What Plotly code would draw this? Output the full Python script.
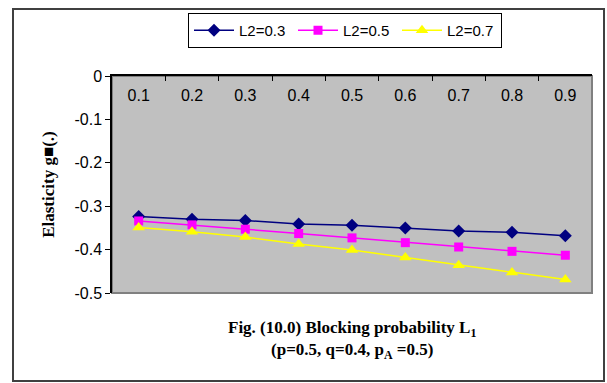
import plotly.graph_objects as go

categories = ["0.1", "0.2", "0.3", "0.4", "0.5", "0.6", "0.7", "0.8", "0.9"]
l2_03 = [-0.324, -0.330, -0.333, -0.341, -0.344, -0.350, -0.357, -0.360, -0.368]
l2_05 = [-0.334, -0.343, -0.353, -0.363, -0.373, -0.384, -0.394, -0.404, -0.413]
l2_07 = [-0.349, -0.359, -0.371, -0.387, -0.401, -0.418, -0.436, -0.453, -0.469]
series_names = ["L2=0.3", "L2=0.5", "L2=0.7"]
y_tick_vals = [0, -0.1, -0.2, -0.3, -0.4, -0.5]
y_tick_text = ["0", "-0.1", "-0.2", "-0.3", "-0.4", "-0.5"]

W, H = 607, 383
L, R, T, B = 112, 15, 76, 90
pw, ph = W - L - R, H - T - B


def px_x(p):
    return (p - L) / pw


def px_y(p):
    return (H - B - p) / ph


fig = go.Figure()
styles = [
    dict(color="#000080", symbol="diamond", size=10),
    dict(color="#FF00FF", symbol="square", size=9),
    dict(color="#FFFF00", symbol="triangle-up", size=11),
]
for name, vals, st in zip(series_names, [l2_03, l2_05, l2_07], styles):
    fig.add_trace(go.Scatter(
        x=categories, y=vals, name=name, mode="lines+markers",
        line=dict(color=st["color"], width=1.5),
        marker=dict(color=st["color"], symbol=st["symbol"], size=st["size"],
                    line=dict(width=0)),
    ))

axis_font = dict(family="Liberation Sans, Arial", size=16, color="black")
serif_bold = dict(family="Liberation Serif, Times New Roman", size=17, color="black",
                  weight="bold")

fig.update_layout(
    width=W, height=H,
    margin=dict(l=L, r=R, t=T, b=B),
    paper_bgcolor="white",
    plot_bgcolor="#C0C0C0",
    showlegend=True,
    legend=dict(
        orientation="h", x=px_x(188), y=px_y(13), xanchor="left", yanchor="top",
        bordercolor="black", borderwidth=1, bgcolor="white",
        font=dict(family="Liberation Sans, Arial", size=15, color="black"),
        entrywidth=49, entrywidthmode="pixels", itemwidth=40,
        tracegroupgap=0,
    ),
    xaxis=dict(
        type="category", side="top", showgrid=False, zeroline=False,
        showline=True, linecolor="black", linewidth=1.5,
        ticks="inside", ticklen=5, tickcolor="black", tickwidth=1,
        tickson="boundaries", ticklabelposition="outside", ticklabelstandoff=-33,
        tickfont=axis_font, range=[-0.5, 8.5],
    ),
    yaxis=dict(
        range=[-0.5, 0], showgrid=False, zeroline=False,
        showline=True, linecolor="black", linewidth=1.5,
        ticks="outside", ticklen=5, tickcolor="black", tickwidth=1,
        tickvals=y_tick_vals, ticktext=y_tick_text, tickfont=axis_font,
        title=dict(text="Elasticity g\u25A0(.)", font=serif_bold, standoff=16),
    ),
    shapes=[
        dict(type="rect", xref="paper", yref="paper", x0=0, x1=1, y0=0, y1=1,
             line=dict(color="#808080", width=2), layer="below"),
        dict(type="rect", xref="paper", yref="paper",
             x0=px_x(13), x1=px_x(604), y0=px_y(381), y1=px_y(9),
             line=dict(color="#404040", width=2), layer="below"),
    ],
    annotations=[
        dict(text="Fig. (10.0) Blocking probability L<sub>1</sub><br>(p=0.5, q=0.4, p<sub>A</sub> =0.5)",
             xref="paper", yref="paper", x=0.5, y=px_y(316), xanchor="center", yanchor="top",
             showarrow=False, font=serif_bold, align="center"),
    ],
)

fig.write_html("out.html")
